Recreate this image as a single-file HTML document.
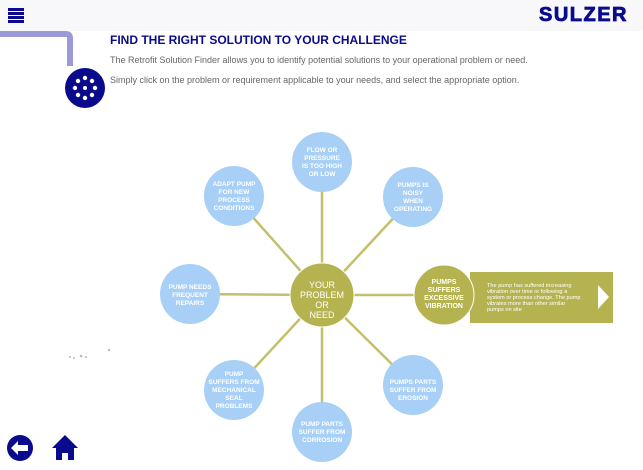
<!DOCTYPE html>
<html><head><style>
body{margin:0;width:643px;height:470px;background:#fff;font-family:"Liberation Sans",sans-serif;position:relative;overflow:hidden}
.hdr{position:absolute;left:0;top:0;width:643px;height:31px;background:#f8f7fa}
.t{position:absolute;color:#666;font-size:9px;left:110px}
</style></head><body>
<div class="hdr"></div>
<div style="position:absolute;left:8px;top:8px;width:16px">
<div style="height:2.5px;background:#0a0a8c;margin-bottom:1.5px"></div><div style="height:2.5px;background:#0a0a8c;margin-bottom:1.5px"></div><div style="height:2.5px;background:#0a0a8c;margin-bottom:1.5px"></div><div style="height:2.5px;background:#0a0a8c;margin-bottom:1.5px"></div></div>
<div style="position:absolute;left:539px;top:4px;font-weight:900;font-size:20px;color:#0a0a8c;letter-spacing:1.5px;-webkit-text-stroke:0.8px #0a0a8c">SULZER</div>
<svg width="643" height="470" style="position:absolute;left:0;top:0">
<path d="M0 34 H66 Q70 34 70 38 V66" stroke="#9b9ad8" stroke-width="6" fill="none"/>
<circle cx="85" cy="88" r="20" fill="#0a0a8c"/>
<g fill="#fff"><circle cx="85" cy="88" r="2"/>
<circle cx="85" cy="78" r="2.2"/><circle cx="85" cy="98" r="2.2"/><circle cx="75" cy="88" r="2.2"/><circle cx="95" cy="88" r="2.2"/>
<circle cx="78" cy="81" r="2.2"/><circle cx="92" cy="81" r="2.2"/><circle cx="78" cy="95" r="2.2"/><circle cx="92" cy="95" r="2.2"/></g>
<g stroke="#c2c06a" stroke-width="2.5">
<line x1="322" y1="295" x2="322" y2="162"/><line x1="322" y1="295" x2="413" y2="197"/><line x1="322" y1="295" x2="443" y2="295"/>
<line x1="322" y1="295" x2="413" y2="385"/><line x1="322" y1="295" x2="322" y2="432"/><line x1="322" y1="295" x2="234" y2="390"/>
<line x1="322" y1="295" x2="190" y2="294"/><line x1="322" y1="295" x2="234" y2="196"/></g>
<rect x="470" y="272" width="143" height="51" fill="#b5b350"/>
<polygon points="598,285 609,297 598,309" fill="#fff"/>
<g fill="#a8cff5">
<circle cx="322" cy="162" r="30"/><circle cx="413" cy="197" r="30"/><circle cx="413" cy="385" r="30"/>
<circle cx="322" cy="432" r="30"/><circle cx="234" cy="390" r="30"/><circle cx="190" cy="294" r="30"/><circle cx="234" cy="196" r="30"/></g>
<circle cx="322" cy="295" r="32" fill="#b5b350" stroke="#fff" stroke-width="1"/>
<circle cx="444" cy="295" r="30" fill="#b5b350" stroke="#fff" stroke-width="1"/>
<g fill="#fff" font-weight="bold" font-size="6.5" text-anchor="middle" font-family="Liberation Sans,sans-serif">
<text x="322" y="152">FLOW OR</text><text x="322" y="160">PRESSURE</text><text x="322" y="168">IS TOO HIGH</text><text x="322" y="176">OR LOW</text>
<text x="413" y="187">PUMPS IS</text><text x="413" y="195">NOISY</text><text x="413" y="203">WHEN</text><text x="413" y="211">OPERATING</text>
<text x="234" y="186">ADAPT PUMP</text><text x="234" y="194">FOR NEW</text><text x="234" y="202">PROCESS</text><text x="234" y="210">CONDITIONS</text>
<text x="190" y="289">PUMP NEEDS</text><text x="190" y="297">FREQUENT</text><text x="190" y="305">REPAIRS</text>
<text x="444" y="284" font-size="7">PUMPS</text><text x="444" y="292" font-size="7">SUFFERS</text><text x="444" y="300" font-size="7">EXCESSIVE</text><text x="444" y="308" font-size="7">VIBRATION</text>
<text x="413" y="384">PUMPS PARTS</text><text x="413" y="392">SUFFER FROM</text><text x="413" y="400">EROSION</text>
<text x="322" y="426">PUMP PARTS</text><text x="322" y="434">SUFFER FROM</text><text x="322" y="442">CORROSION</text>
<text x="234" y="376">PUMP</text><text x="234" y="384">SUFFERS FROM</text><text x="234" y="392">MECHANICAL</text><text x="234" y="400">SEAL</text><text x="234" y="408">PROBLEMS</text>
</g>
<g fill="#fff" font-size="9" text-anchor="middle" font-family="Liberation Sans,sans-serif">
<text x="322" y="288">YOUR</text><text x="322" y="298">PROBLEM</text><text x="322" y="308">OR</text><text x="322" y="318">NEED</text></g>
<g fill="#fff" font-size="5.6" font-family="Liberation Sans,sans-serif">
<text x="487" y="287">The pump has suffered increasing</text><text x="487" y="293">vibration over time or following a</text>
<text x="487" y="299">system or process change. The pump</text><text x="487" y="305">vibrates more than other similar</text><text x="487" y="311">pumps on site</text></g>
<g fill="#bbb"><circle cx="70" cy="357" r="1"/><circle cx="74" cy="358" r="1"/><circle cx="81" cy="356" r="1.3"/><circle cx="86" cy="357" r="1"/><circle cx="109" cy="350" r="1.2"/></g>
<circle cx="20" cy="448" r="13" fill="#0a0a8c"/>
<polygon points="11,448 18,441 18,445 28,445 28,451 18,451 18,455" fill="#fff"/>
<polygon points="65,435 78,448 74,448 74,460 68,460 68,453 62,453 62,460 56,460 56,448 52,448" fill="#0a0a8c"/>
</svg>
<div style="position:absolute;left:110px;top:33px;color:#0a0a8c;font-weight:bold;font-size:12px">FIND THE RIGHT SOLUTION TO YOUR CHALLENGE</div>
<div class="t" style="top:55px">The Retrofit Solution Finder allows you to identify potential solutions to your operational problem or need.</div>
<div class="t" style="top:75px">Simply click on the problem or requirement applicable to your needs, and select the appropriate option.</div>
</body></html>
